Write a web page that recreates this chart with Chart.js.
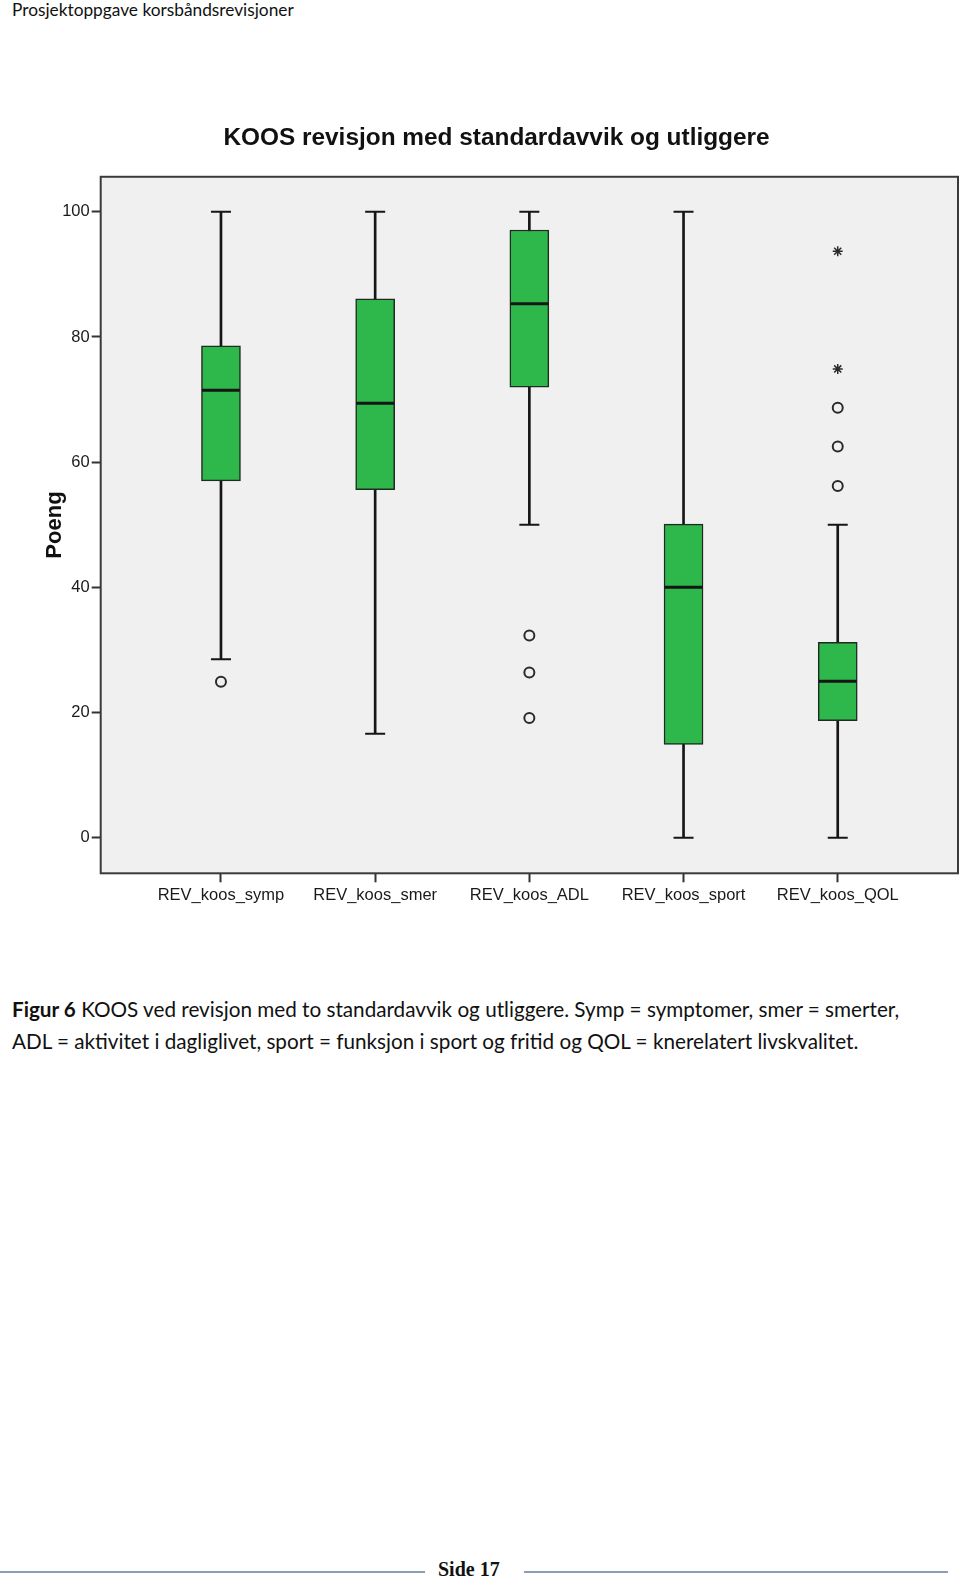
<!DOCTYPE html>
<html>
<head>
<meta charset="utf-8">
<script src="https://cdn.jsdelivr.net/npm/chart.js@4.4.1/dist/chart.umd.min.js"></script>
<style>
    body { margin: 0; background: #fff; width: 960px; height: 1579px; position: relative; overflow: hidden; }
    #header { position: absolute; left: 12px; top: 0px; font-family: Lato, "Open Sans", sans-serif; font-size: 17.3px; color: #111; line-height: 20px; }
    #chart-wrap { position: absolute; left: 0; top: 0; width: 960px; height: 920px; }
    #caption { position: absolute; left: 12px; top: 994px; width: 948px; white-space: nowrap; font-family: Lato, "Open Sans", sans-serif; font-size: 20.7px; line-height: 31.6px; color: #111; }
    #footer-text { position: absolute; left: 438px; top: 1557px; font-family: "Liberation Serif", serif; font-weight: bold; font-size: 20px; line-height: 24px; color: #111; }
    .footer-line { position: absolute; top: 1571px; height: 1.5px; background: #8b9db3; }
</style>
</head>
<body>
<div id="header">Prosjektoppgave korsbåndsrevisjoner</div>
<div id="chart-wrap"><canvas id="koos-chart" width="960" height="920"></canvas></div>
<div id="caption"><b>Figur 6</b> KOOS ved revisjon med to standardavvik og utliggere. Symp = symptomer, smer = smerter,<br>ADL = aktivitet i dagliglivet, sport = funksjon i sport og fritid og QOL = knerelatert livskvalitet.</div>
<div class="footer-line" style="left:0px; width:425px;"></div>
<div id="footer-text">Side 17</div>
<div class="footer-line" style="left:524px; width:424px;"></div>

<script>
const KoosChart = document.getElementById('koos-chart');

// -- data --
const categories = ['REV_koos_symp', 'REV_koos_smer', 'REV_koos_ADL', 'REV_koos_sport', 'REV_koos_QOL'];
const whiskerLow = [28.5, 16.6, 50.0, 0, 0];
const q1 = [57.0, 55.6, 72.0, 14.9, 18.7];
const median = [71.5, 69.4, 85.3, 40.0, 25.0];
const q3 = [78.6, 86.1, 97.1, 50.1, 31.2];
const whiskerHigh = [100, 100, 100, 100, 50.0];

// outliers (circles) and extremes (stars): category index + value
const outlierCat = [0, 2, 2, 2, 4, 4, 4];
const outlierVal = [24.9, 32.3, 26.4, 19.1, 68.7, 62.5, 56.2];
const extremeCat = [4, 4];
const extremeVal = [93.7, 74.9];

const yTicks = [0, 20, 40, 60, 80, 100];
const xTicks = [0, 1, 2, 3, 4];

const boxGreen = '#2eb84b';
const ink = '#161616';

//Build datasets
let whiskerData = new Array();
let boxData = new Array();
let medianData = new Array();
let capData = new Array();
for (var i = 0; i < categories.length; i++) {
    whiskerData.push({ x: i, y: [whiskerLow[i], whiskerHigh[i]] });
    boxData.push({ x: i, y: [q1[i], q3[i]] });
    medianData.push({ x: i, y: median[i] });
    capData.push({ x: i, y: whiskerLow[i] });
    capData.push({ x: i, y: whiskerHigh[i] });
}
let outlierData = outlierCat.map((c, i) => ({ x: c, y: outlierVal[i] }));
let extremeData = extremeCat.map((c, i) => ({ x: c, y: extremeVal[i] }));

// plot background + frame
const framePlugin = {
    id: 'frame',
    beforeDatasetsDraw(chart) {
        const { ctx, chartArea: a } = chart;
        ctx.save();
        ctx.fillStyle = '#f0f0f0';
        ctx.fillRect(a.left, a.top, a.right - a.left, a.bottom - a.top);
        ctx.restore();
    },
    afterDatasetsDraw(chart) {
        const { ctx, chartArea: a } = chart;
        ctx.save();
        ctx.strokeStyle = '#3a3a3a';
        ctx.lineWidth = 2;
        ctx.strokeRect(a.left, a.top, a.right - a.left, a.bottom - a.top);
        ctx.restore();
    }
};

new Chart(KoosChart, {
    type: 'bar',
    data: {
        datasets: [
            {
                label: 'whisker',
                data: whiskerData,
                backgroundColor: ink,
                borderWidth: 0,
                barThickness: 2,
                grouped: false,
                order: 3
            },
            {
                label: 'box',
                data: boxData,
                backgroundColor: boxGreen,
                borderColor: '#1f2a20',
                borderWidth: 1.5,
                borderSkipped: false,
                barThickness: 39,
                grouped: false,
                order: 2
            },
            {
                type: 'scatter',
                label: 'median',
                data: medianData,
                pointStyle: 'line',
                pointRadius: 19,
                borderColor: ink,
                borderWidth: 3,
                order: 1
            },
            {
                type: 'scatter',
                label: 'caps',
                data: capData,
                pointStyle: 'line',
                pointRadius: 10,
                borderColor: ink,
                borderWidth: 2,
                order: 1
            },
            {
                type: 'scatter',
                label: 'outliers',
                data: outlierData,
                pointStyle: 'circle',
                pointRadius: 5,
                borderColor: '#2a2a2a',
                backgroundColor: 'rgba(0,0,0,0)',
                borderWidth: 2,
                order: 1
            },
            {
                type: 'scatter',
                label: 'extremes',
                data: extremeData,
                pointStyle: 'star',
                pointRadius: 5,
                borderColor: '#2a2a2a',
                borderWidth: 1.5,
                order: 1
            }
        ]
    },
    options: {
        responsive: false,
        animation: false,
        devicePixelRatio: 1,
        layout: {
            //no extra room for the wide median markers
            autoPadding: false,
            padding: { left: 35, right: 2, top: 123.6, bottom: 0 }
        },
        plugins: {
            legend: { display: false },
            tooltip: { enabled: false },
            title: {
                display: true,
                text: 'KOOS revisjon med standardavvik og utliggere',
                color: '#111',
                font: { family: '"Liberation Sans", Arial, sans-serif', size: 24.4, weight: 'bold' },
                padding: { top: 0, bottom: 23.9 }
            }
        },
        scales: {
            x: {
                type: 'linear',
                min: -0.78,
                max: 4.78,
                offset: false,
                border: { display: false },
                grid: { offset: false, drawOnChartArea: false, drawTicks: true, tickLength: 9, tickColor: '#333', tickWidth: 2 },
                afterBuildTicks: (scale) => { scale.ticks = xTicks.map(v => ({ value: v })); },
                ticks: {
                    autoSkip: false,
                    maxRotation: 0,
                    padding: 3,
                    color: '#1a1a1a',
                    font: { family: '"Liberation Sans", Arial, sans-serif', size: 16.5 },
                    callback: (v) => categories[v]
                },
                afterFit: (scale) => {
                    scale.height = 46.7;
                    scale.paddingLeft = 0;
                    scale.paddingRight = 0;
                }
            },
            y: {
                min: -5.7,
                max: 105.6,
                border: { display: false },
                grid: { drawOnChartArea: false, drawTicks: true, tickLength: 9, tickColor: '#333', tickWidth: 2 },
                afterBuildTicks: (scale) => { scale.ticks = yTicks.map(v => ({ value: v })); },
                ticks: {
                    padding: 2,
                    color: '#1a1a1a',
                    font: { family: '"Liberation Sans", Arial, sans-serif', size: 16.5 }
                },
                title: {
                    display: true,
                    text: 'Poeng',
                    color: '#111',
                    font: { family: '"Liberation Sans", Arial, sans-serif', size: 22, weight: 'bold' },
                    padding: { top: 7.2, bottom: 0 }
                },
                afterFit: (scale) => {
                    scale.width = 65.7;
                    scale.paddingTop = 0;
                    scale.paddingBottom = 0;
                }
            }
        }
    },
    plugins: [framePlugin]
});
</script>
</body>
</html>
